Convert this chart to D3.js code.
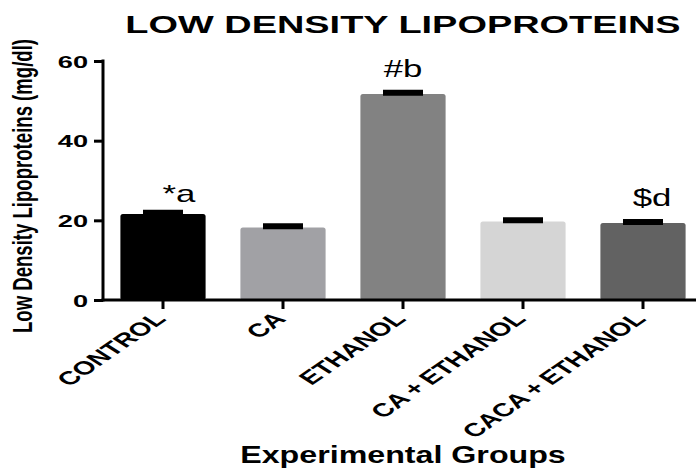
<!DOCTYPE html>
<html><head><meta charset="utf-8">
<script src="https://cdn.jsdelivr.net/npm/d3@7"></script>
<style>body{margin:0;background:#fff}svg{display:block}</style>
</head><body><svg id="c" width="696" height="468"></svg>
<script>
const categories = ["CONTROL","CA","ETHANOL","CA + ETHANOL","CACA + ETHANOL"];
const values = [21.6, 18.2, 51.7, 19.7, 19.3];
const sems = [0.3, 0.3, 0.3, 0.3, 0.3];
const annotations = ["*a","","#b","","$d"];
const colors = ["#000000","#a1a1a5","#828282","#d5d5d5","#626262"];
const yTicks = [0,20,40,60];

const FONT = "Liberation Sans, Arial, Helvetica, sans-serif";
const svg = d3.select("#c");
const x = d3.scaleBand().domain(categories).range([103,703]).paddingInner(0.29).paddingOuter(0.145);
const y = d3.scaleLinear().domain([0,60]).range([300,61]);

// title
svg.append("text").attr("transform","translate(403,33) scale(1.58,1)").attr("text-anchor","middle")
  .attr("font-family",FONT).attr("font-weight","bold")
  .attr("font-size",24).text("LOW DENSITY LIPOPROTEINS");

// bars
svg.append("g").selectAll("rect").data(categories).join("rect")
  .attr("x",d=>x(d)).attr("width",x.bandwidth())
  .attr("y",(d,i)=>y(values[i])).attr("height",(d,i)=>y(0)-y(values[i]))
  .attr("rx",2.5).attr("fill",(d,i)=>colors[i]);

// error bars
const eb = svg.append("g");
categories.forEach((c,i)=>{
  const cx = x(c)+x.bandwidth()/2;
  eb.append("line").attr("x1",cx).attr("x2",cx).attr("y1",y(values[i])).attr("y2",y(values[i]+sems[i]))
    .attr("stroke","#000").attr("stroke-width",2);
  eb.append("line").attr("x1",cx-20).attr("x2",cx+20).attr("y1",y(values[i]+sems[i])).attr("y2",y(values[i]+sems[i]))
    .attr("stroke","#000").attr("stroke-width",6);
});

// annotations
const annDx = [16,0,0,0,9];
const annDy = [11,0,16,0,16];
categories.forEach((c,i)=>{
  if(!annotations[i]) return;
  const cx = x(c)+x.bandwidth()/2 + annDx[i];
  const ty = y(values[i]+sems[i]) - annDy[i];
  svg.append("text").attr("transform",`translate(${cx},${ty}) scale(1.45,1)`)
    .attr("text-anchor","middle").attr("font-family",FONT).attr("font-size",24)
    .text(annotations[i]);
});

// y axis
const ya = svg.append("g").attr("transform","translate(103,0)")
  .call(d3.axisLeft(y).tickValues(yTicks).tickSize(9).tickPadding(5));
ya.select(".domain").attr("stroke","#000").attr("stroke-width",3).attr("d","M0,"+(y(60)-1.5)+"V"+(y(0)+1.5));
ya.selectAll(".tick line").attr("stroke","#000").attr("stroke-width",3);
ya.selectAll(".tick text").attr("font-family",FONT)
  .attr("font-weight","bold").attr("font-size",17).attr("fill","#000")
  .attr("x",0).attr("dy","0.36em").attr("text-anchor","end")
  .attr("transform","translate(-15,0) scale(1.6,1)");

// x axis
const xa = svg.append("g").attr("transform","translate(0,300)")
  .call(d3.axisBottom(x).tickSize(9).tickPadding(4));
xa.select(".domain").attr("stroke","#000").attr("stroke-width",3).attr("d","M101.5,0H696");
xa.selectAll(".tick line").attr("stroke","#000").attr("stroke-width",3);
xa.selectAll(".tick text").attr("font-family",FONT)
  .attr("font-weight","bold").attr("font-size",19).attr("fill","#000")
  .attr("word-spacing",-1)
  .attr("text-anchor","end").attr("y",0).attr("dy","0")
  .attr("transform","translate(4,20) scale(1.5,1) rotate(-46)");

// y axis title
svg.append("text").attr("transform","translate(32,186) scale(1.45,1) rotate(-90)").attr("text-anchor","middle")
  .attr("font-family",FONT).attr("font-weight","bold")
  .attr("font-size",19).attr("textLength",294).attr("lengthAdjust","spacingAndGlyphs")
  .text("Low Density Lipoproteins (mg/dl)");

// x axis title
svg.append("text").attr("transform","translate(403,463) scale(1.4,1)").attr("text-anchor","middle")
  .attr("font-family",FONT).attr("font-weight","bold")
  .attr("font-size",23).text("Experimental Groups");
</script></body></html>
